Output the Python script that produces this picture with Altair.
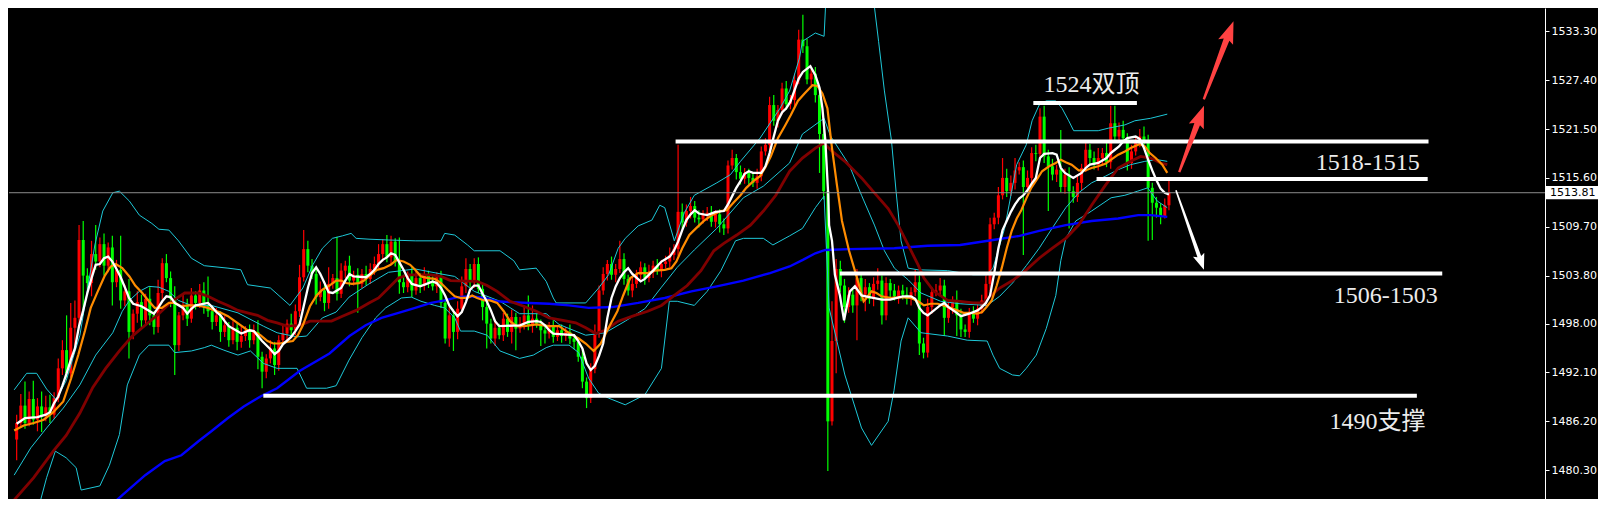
import altair as alt
import pandas as pd

# ---------------- data ----------------
tick_values = [1480.3, 1486.2, 1492.1, 1498.0, 1503.8, 1509.7, 1515.6, 1521.5, 1527.4, 1533.3]
current_price = 1513.81
first_open = 1484.0

close = [
    1486.0, 1488.1, 1486.0, 1488.9, 1486.4, 1488.0, 1486.8, 1487.9, 1487.0, 1489.0,
    1492.6, 1494.8, 1492.0, 1497.5, 1498.7, 1508.1, 1503.8, 1502.9, 1506.4, 1505.5,
    1507.6, 1505.0, 1507.2, 1503.0, 1504.5, 1500.8, 1501.9, 1497.0, 1499.2, 1500.6,
    1498.4, 1501.0, 1499.0, 1497.6, 1501.7, 1505.3, 1503.5, 1501.0, 1495.4, 1499.0,
    1500.3, 1498.6, 1501.4, 1500.5, 1502.0, 1500.2, 1499.5, 1498.2, 1499.0, 1497.0,
    1497.8, 1496.0, 1497.5, 1495.8, 1496.5, 1497.2, 1496.0, 1497.0, 1494.0, 1492.2,
    1493.8, 1495.0, 1493.0, 1496.0, 1496.8, 1498.0, 1497.2, 1499.5, 1503.6, 1507.0,
    1505.0, 1504.0, 1501.2, 1502.0, 1500.5, 1502.8, 1503.5, 1501.6, 1504.4, 1505.0,
    1503.2, 1503.9, 1502.8, 1504.0, 1503.4, 1504.6, 1505.2, 1506.4, 1507.6, 1506.0,
    1507.9, 1505.4, 1503.0, 1502.4, 1503.8, 1502.0, 1503.5, 1502.6, 1503.9, 1503.0,
    1502.5, 1503.6, 1500.5, 1496.2, 1499.0, 1497.0, 1499.8, 1502.5, 1504.6, 1503.0,
    1505.2, 1502.2, 1500.0, 1498.0, 1496.2, 1497.5, 1496.6, 1498.6, 1497.0, 1498.8,
    1497.4, 1498.0, 1499.0, 1497.8, 1498.6, 1498.0, 1497.2, 1496.8, 1497.6, 1496.4,
    1497.2, 1496.5, 1497.0, 1496.2, 1495.8, 1494.0, 1491.0, 1489.0, 1492.5, 1497.0,
    1502.0, 1504.0, 1505.2, 1503.9, 1504.6, 1505.8, 1503.4, 1502.0, 1502.8, 1503.9,
    1504.8, 1503.5, 1504.2, 1505.0, 1504.5, 1505.2, 1505.5, 1506.3, 1507.0, 1511.5,
    1510.2, 1511.6, 1512.2, 1510.8, 1510.6, 1511.2, 1511.4, 1510.3, 1511.2, 1510.0,
    1509.5, 1517.1, 1518.0, 1516.3, 1515.5, 1516.2, 1515.6, 1515.0, 1515.8, 1518.8,
    1519.6, 1524.4, 1522.5, 1523.8, 1526.4, 1524.5, 1525.0, 1527.4, 1532.3, 1531.5,
    1527.5, 1528.2, 1525.6, 1520.9, 1514.0, 1486.2, 1495.9, 1504.6, 1502.6, 1500.0,
    1501.5, 1500.2, 1503.5, 1501.5, 1502.4, 1501.0, 1502.8, 1503.2, 1499.0, 1502.9,
    1502.0, 1501.3, 1502.0, 1501.5, 1501.0, 1501.8, 1503.0, 1495.6, 1494.5, 1500.0,
    1501.8, 1502.0, 1502.6, 1498.7, 1500.0, 1500.8, 1499.0, 1497.3, 1497.0, 1499.2,
    1498.6, 1499.8, 1500.8, 1502.8, 1510.0, 1510.8, 1513.5, 1515.6, 1514.0, 1515.0,
    1516.5, 1516.9, 1514.5, 1515.6, 1518.6, 1518.5, 1523.0, 1518.2, 1517.0, 1516.0,
    1516.6, 1514.5, 1516.0, 1514.0, 1513.3, 1515.0, 1516.8, 1519.0, 1518.0, 1517.2,
    1518.0, 1518.6, 1517.5, 1522.2, 1520.6, 1521.4, 1520.4, 1517.4, 1518.8, 1519.9,
    1520.6, 1520.0, 1514.4, 1512.6, 1512.0, 1511.0, 1512.3, 1513.81,
]

wick_up = [
    1.0, 1.4, 2.9, 0.9, 2.2, 1.0, 1.8, 1.4, 1.5, 0.7,
    1.2, 1.2, 4.2, 3.0, 2.1, 1.8, 2.3, 0.9, 1.6, 3.5,
    0.8, 1.3, 0.6, 1.4, 1.2, 4.1, 0.8, 1.5, 0.5, 1.3,
    0.9, 0.6, 1.4, 0.5, 1.6, 0.6, 1.1, 0.8, 1.5, 0.4,
    1.2, 0.7, 0.9, 0.5, 0.8, 1.0, 3.5, 0.6, 0.9, 0.5,
    1.1, 0.4, 0.8, 0.6, 1.2, 0.5, 0.7, 0.9, 1.4, 0.6,
    0.5, 1.0, 0.8, 0.6, 0.9, 0.5, 1.2, 0.8, 1.5, 2.3,
    1.0, 0.8, 0.6, 1.1, 0.7, 2.0, 0.5, 5.0, 0.9, 0.6,
    1.2, 0.5, 0.8, 0.6, 1.0, 0.7, 0.9, 1.2, 0.6, 1.1,
    0.7, 0.4, 3.0, 0.9, 0.5, 1.0, 0.8, 0.6, 0.9, 0.5,
    0.7, 0.6, 0.8, 0.5, 1.0, 0.7, 0.9, 1.2, 1.3, 0.6,
    0.7, 0.8, 0.5, 0.9, 0.6, 0.8, 0.5, 0.7, 0.6, 0.9,
    0.5, 0.8, 1.2, 2.4, 1.6, 0.6, 0.5, 0.7, 0.6, 0.8,
    0.5, 0.7, 0.6, 0.9, 0.5, 0.6, 0.8, 0.5, 0.7, 0.9,
    0.6, 0.8, 0.5, 0.9, 0.6, 2.2, 0.7, 0.5, 0.8, 0.6,
    0.7, 0.5, 0.9, 0.6, 0.8, 0.5, 0.7, 0.9, 0.6, 8.1,
    1.0, 0.8, 1.1, 0.6, 0.9, 0.5, 0.7, 0.8, 0.5, 0.6,
    0.7, 0.6, 1.0, 0.5, 0.8, 0.6, 0.5, 0.7, 0.9, 0.6,
    0.8, 1.0, 1.2, 0.6, 0.7, 0.9, 0.6, 0.8, 1.2, 3.0,
    0.9, 0.6, 0.8, 0.7, 1.0, 0.5, 4.8, 1.2, 1.0, 0.8,
    0.9, 0.6, 1.1, 0.7, 1.0, 0.5, 0.8, 1.5, 0.6, 0.7,
    0.5, 0.8, 0.6, 0.7, 0.9, 0.6, 1.5, 0.8, 0.7, 1.0,
    0.6, 0.8, 0.9, 0.7, 0.6, 0.5, 1.2, 0.8, 0.6, 0.7,
    0.9, 0.5, 0.7, 1.0, 0.8, 0.6, 1.0, 2.4, 1.1, 0.9,
    1.5, 0.6, 0.8, 0.9, 0.7, 1.0, 1.0, 1.3, 0.8, 0.9,
    0.6, 4.8, 0.7, 0.9, 0.6, 0.8, 0.5, 0.9, 0.7, 0.8,
    1.2, 0.6, 1.3, 2.1, 2.1, 0.9, 1.1, 0.6, 0.8, 0.7,
    0.9, 1.2, 0.8, 0.6, 0.7, 0.5, 0.8, 1.5,
]

wick_dn = [
    2.5, 0.6, 0.7, 0.4, 0.6, 1.4, 1.9, 0.6, 1.0, 0.5,
    0.5, 0.8, 0.5, 0.5, 2.2, 1.2, 4.8, 0.9, 1.6, 1.0,
    0.7, 1.2, 0.8, 2.8, 0.6, 1.0, 0.7, 3.2, 0.9, 1.1,
    0.8, 0.6, 1.2, 0.9, 0.7, 0.8, 0.5, 1.0, 3.6, 0.7,
    0.6, 0.9, 0.5, 0.8, 0.6, 1.0, 0.7, 0.9, 0.5, 1.2,
    0.6, 0.8, 0.5, 1.0, 0.7, 0.6, 0.9, 0.5, 1.5, 2.0,
    0.8, 0.6, 1.2, 0.7, 0.5, 0.8, 0.9, 0.6, 0.7, 0.5,
    0.8, 0.6, 0.9, 0.5, 1.0, 0.7, 0.6, 0.8, 0.5, 0.9,
    0.7, 0.6, 3.5, 0.5, 0.8, 0.6, 0.7, 0.5, 0.9, 0.6,
    0.8, 0.5, 1.4, 0.7, 0.6, 0.8, 0.5, 0.9, 0.6, 0.7,
    0.5, 0.8, 0.6, 0.6, 1.0, 2.3, 0.9, 0.5, 0.8, 0.6,
    0.7, 0.5, 1.6, 3.0, 0.6, 0.9, 0.5, 0.7, 0.6, 1.4,
    2.6, 0.5, 0.7, 0.6, 0.9, 0.5, 1.9, 1.2, 0.6, 0.7,
    0.5, 0.8, 0.6, 0.7, 0.9, 0.6, 0.8, 1.2, 0.6, 0.5,
    0.7, 0.5, 0.8, 0.6, 0.9, 0.5, 0.7, 0.6, 0.8, 0.5,
    0.6, 0.8, 0.5, 0.7, 0.6, 0.9, 0.5, 0.7, 0.6, 0.8,
    0.7, 0.5, 0.9, 0.6, 1.0, 0.5, 0.8, 0.6, 0.7, 1.0,
    0.8, 0.6, 0.5, 0.9, 0.7, 0.6, 0.8, 0.5, 0.7, 0.6,
    0.5, 0.9, 0.6, 0.8, 0.5, 0.7, 0.6, 0.9, 0.5, 0.8,
    0.6, 0.7, 0.9, 4.7, 1.0, 6.0, 0.5, 3.9, 0.8, 1.9,
    0.7, 0.9, 4.2, 0.8, 2.0, 0.6, 0.9, 0.7, 1.1, 0.6,
    0.8, 0.5, 0.9, 0.6, 0.7, 0.8, 0.5, 1.4, 0.7, 0.6,
    0.8, 0.5, 0.7, 2.2, 0.6, 0.8, 2.5, 0.9, 0.6, 0.7,
    0.5, 0.8, 0.6, 0.7, 0.9, 0.6, 0.8, 0.5, 0.7, 0.6,
    0.8, 0.5, 8.2, 0.6, 0.7, 0.9, 0.6, 0.8, 5.4, 0.7,
    0.9, 0.6, 0.8, 4.5, 0.7, 0.6, 0.9, 0.5, 0.8, 0.6,
    0.7, 0.9, 0.6, 0.8, 0.5, 0.7, 0.6, 0.9, 0.7, 0.5,
    0.6, 0.8, 6.4, 4.5, 1.2, 1.0, 0.3, 0.6,
]

# indicator lines: (bar index, price)
white_ma = [
    (0, 1485.9), (2, 1486.6), (5, 1486.7), (7, 1487.0), (8, 1487.3), (9, 1488.4), (10, 1489.2), (11, 1490.5),
    (12, 1492.0), (13, 1493.6), (14, 1495.0), (15, 1497.7), (16, 1499.6), (17, 1501.7), (18, 1503.5), (19, 1505.1),
    (20, 1505.2), (21, 1505.9), (22, 1506.1), (23, 1505.5), (24, 1504.6), (25, 1503.6), (26, 1502.4), (27, 1501.1),
    (28, 1500.4), (30, 1500.1), (32, 1499.5), (33, 1499.2), (34, 1499.9), (35, 1500.7), (36, 1501.3), (37, 1501.2),
    (38, 1500.5), (40, 1499.9), (41, 1499.2), (42, 1499.8), (43, 1500.2), (46, 1500.5), (47, 1500.0), (48, 1499.4),
    (49, 1499.0), (50, 1498.3), (51, 1497.7), (53, 1497.1), (54, 1496.8), (56, 1497.2), (57, 1497.1), (58, 1496.5),
    (59, 1495.9), (61, 1494.9), (62, 1494.3), (63, 1494.7), (64, 1495.5), (66, 1496.4), (67, 1497.1), (68, 1497.9),
    (69, 1500.1), (70, 1502.3), (71, 1504.1), (72, 1504.8), (73, 1504.0), (74, 1502.9), (75, 1501.8), (76, 1501.7),
    (78, 1502.3), (79, 1503.2), (80, 1504.0), (81, 1503.7), (84, 1503.6), (85, 1504.0), (86, 1504.5), (87, 1505.2),
    (88, 1505.7), (89, 1506.0), (90, 1506.5), (91, 1506.3), (92, 1505.4), (93, 1504.5), (94, 1503.5), (95, 1502.8),
    (97, 1502.5), (99, 1502.9), (100, 1503.1), (101, 1502.9), (102, 1502.3), (103, 1501.4), (104, 1500.2), (105, 1499.5),
    (106, 1498.9), (107, 1499.4), (108, 1500.6), (109, 1502.1), (110, 1502.6), (111, 1502.6), (112, 1501.6), (113, 1500.7),
    (114, 1499.6), (115, 1498.3), (116, 1497.7), (121, 1497.8), (123, 1498.2), (125, 1498.3), (126, 1498.2), (127, 1497.8),
    (128, 1497.2), (129, 1496.8), (134, 1496.6), (135, 1495.9), (136, 1495.0), (137, 1493.2), (138, 1492.4), (139, 1492.9),
    (140, 1494.1), (141, 1495.6), (142, 1498.7), (143, 1501.1), (144, 1502.5), (145, 1503.5), (146, 1504.2), (147, 1504.7),
    (148, 1504.0), (150, 1503.1), (151, 1503.4), (153, 1504.4), (155, 1505.5), (157, 1506.1), (158, 1506.8), (159, 1507.9),
    (160, 1509.3), (161, 1510.5), (162, 1511.2), (163, 1511.7), (164, 1511.3), (166, 1511.1), (168, 1511.5), (170, 1511.6),
    (171, 1512.4), (172, 1513.4), (173, 1514.4), (174, 1515.2), (175, 1516.1), (176, 1516.4), (177, 1516.2), (179, 1516.2),
    (180, 1517.0), (181, 1518.6), (182, 1520.6), (183, 1522.5), (184, 1523.5), (185, 1524.0), (186, 1524.8), (187, 1526.2),
    (188, 1527.6), (189, 1528.4), (190.8, 1529.1), (192, 1528.0), (193, 1526.5), (193.7, 1524.0), (194.4, 1520.1),
    (195.1, 1513.5), (195.3, 1509.9), (196, 1508.0), (196.7, 1503.9), (197.9, 1501.4), (198.9, 1498.4), (199.6, 1500.2),
    (200.3, 1501.9), (201.5, 1502.5), (203.1, 1501.4), (205, 1501.2), (208, 1500.9), (210, 1500.9), (213, 1501.3),
    (215, 1501.3), (216, 1501.0), (217, 1499.9), (218, 1499.3), (219, 1499.0), (220, 1499.4), (222, 1500.2), (223, 1500.5),
    (224, 1500.0), (226, 1499.3), (227, 1498.9), (229, 1499.2), (231, 1499.6), (232, 1500.0), (233, 1500.5), (234, 1501.4),
    (235, 1504.1), (236, 1507.1), (237, 1509.3), (238, 1510.4), (239, 1511.5), (240, 1512.4), (241, 1513.1), (242, 1513.5),
    (243, 1514.1), (244, 1514.9), (245, 1515.6), (246, 1518.0), (247, 1518.5), (249, 1518.6), (250, 1518.4), (251, 1516.8),
    (252, 1516.2), (254, 1515.6), (256, 1516.2), (257, 1516.8), (258, 1517.2), (260, 1517.4), (262, 1518.0), (263, 1518.6),
    (264, 1519.0), (265, 1519.4), (266, 1520.0), (267, 1520.4), (269, 1520.6), (270, 1520.3), (271, 1519.2), (272, 1517.8),
    (273, 1516.5), (274, 1515.3), (275, 1514.3), (276, 1513.8), (277, 1513.6),
]

orange_ma = [
    (-0.6, 1485.1), (1.7, 1485.7), (4.1, 1486.0), (6.5, 1486.4), (8.8, 1487.3), (11.2, 1488.6), (13.1, 1491.4),
    (14.8, 1494.2), (16.4, 1497.1), (17.8, 1499.9), (19.5, 1501.9), (21.2, 1503.8), (22.6, 1504.9), (23.8, 1505.2),
    (25.4, 1504.7), (27.1, 1503.7), (28.5, 1502.6), (30.2, 1501.7), (31.8, 1500.7), (33.2, 1499.9), (34.9, 1499.9),
    (36.6, 1500.5), (38.0, 1500.5), (39.6, 1500.1), (41.3, 1500.2), (42.7, 1500.2), (44.4, 1500.1), (46.0, 1499.9),
    (47.5, 1499.6), (49.1, 1499.3), (50.8, 1498.9), (52.2, 1498.4), (53.9, 1497.8), (55.5, 1497.2), (56.9, 1497.1),
    (58.6, 1496.6), (60.3, 1495.9), (61.7, 1495.6), (63.3, 1495.6), (65.0, 1495.8), (66.4, 1495.9), (67.6, 1496.6),
    (68.8, 1497.8), (70.5, 1500.1), (72.1, 1501.4), (73.5, 1502.1), (75.2, 1502.6), (76.8, 1503.2), (78.0, 1503.2),
    (79.2, 1502.9), (80.6, 1502.8), (82.3, 1502.9), (83.5, 1503.2), (85.1, 1503.9), (86.6, 1504.5), (88.2, 1504.7),
    (89.9, 1505.1), (91.3, 1505.7), (93.0, 1505.5), (94.6, 1505.1), (95.8, 1504.5), (97.2, 1503.7), (98.9, 1503.5),
    (100.5, 1503.4), (102.0, 1502.9), (103.6, 1502.1), (105.3, 1501.3), (106.7, 1501.1), (108.4, 1501.1), (109.5, 1501.4),
    (110.7, 1501.1), (112.4, 1500.8), (113.8, 1500.8), (115.5, 1500.5), (117.1, 1499.5), (118.6, 1498.3), (120.2, 1497.7),
    (121.9, 1497.7), (123.3, 1497.8), (124.9, 1497.9), (126.6, 1497.8), (128.0, 1497.7), (130.4, 1497.7), (132.1, 1497.1),
    (133.7, 1496.6), (135.1, 1496.2), (136.8, 1495.6), (138.7, 1494.7), (140.4, 1495.6), (142.3, 1497.5), (144.4, 1499.5),
    (145.8, 1501.4), (147.5, 1503.5), (149.4, 1504.1), (151.7, 1504.1), (153.4, 1504.4), (155.8, 1504.5), (157.4, 1504.7),
    (158.6, 1505.5), (160.0, 1507.1), (161.7, 1508.7), (163.3, 1509.5), (165.2, 1510.4), (167.1, 1511.1), (169.3, 1511.6),
    (170.7, 1511.7), (172.3, 1512.6), (174.0, 1513.5), (175.4, 1514.4), (177.1, 1515.2), (178.7, 1515.8), (179.9, 1516.8),
    (181.3, 1518.2), (183.0, 1520.4), (184.7, 1521.9), (186.1, 1523.2), (187.8, 1524.9), (189.4, 1525.8), (191.3, 1526.8),
    (192.5, 1526.7), (193.7, 1525.8), (194.9, 1524.0), (196.0, 1519.2), (197.2, 1514.7), (198.4, 1510.4), (200.1, 1506.8),
    (201.5, 1504.4), (202.7, 1502.3), (203.6, 1500.7), (204.3, 1501.1), (205.5, 1501.9), (206.7, 1501.7), (207.9, 1501.3),
    (210.3, 1501.1), (212.6, 1501.2), (215.0, 1501.1), (216.7, 1500.7), (218.1, 1500.2), (219.7, 1500.4), (221.4, 1500.4),
    (222.8, 1500.2), (224.5, 1499.9), (226.1, 1499.6), (227.6, 1499.3), (229.2, 1499.3), (230.9, 1499.2), (232.1, 1499.4),
    (233.3, 1500.1), (234.4, 1500.8), (235.6, 1502.6), (236.8, 1504.7), (238.0, 1507.1), (239.2, 1509.2), (240.4, 1510.7),
    (241.5, 1511.7), (242.7, 1513.1), (243.9, 1514.4), (245.1, 1515.3), (246.5, 1516.4), (248.2, 1517.0), (249.8, 1517.4),
    (251.0, 1517.8), (252.2, 1517.5), (253.6, 1517.2), (255.3, 1516.5), (256.9, 1516.5), (258.4, 1516.8), (260.0, 1517.0),
    (261.7, 1517.3), (263.1, 1517.8), (264.8, 1518.4), (266.4, 1518.8), (267.8, 1519.2), (270.0, 1519.7), (271.2, 1519.4),
    (272.4, 1518.6), (273.8, 1518.0), (275.4, 1517.2), (276.6, 1516.2),
]

darkred_ma = [
    (-0.6, 1476.7), (4.1, 1479.4), (8.8, 1482.6), (11.9, 1484.5), (15.2, 1487.2), (18.3, 1490.3), (21.4, 1492.6),
    (24.7, 1494.7), (27.8, 1496.5), (30.9, 1497.8), (34.2, 1499.2), (37.3, 1500.7), (40.4, 1501.7), (43.7, 1501.7),
    (46.0, 1501.3), (48.4, 1500.7), (50.8, 1500.2), (53.2, 1499.6), (55.5, 1499.3), (57.9, 1499.0), (60.3, 1498.4),
    (62.6, 1498.1), (65.0, 1497.7), (68.1, 1497.8), (70.5, 1498.3), (75.7, 1498.3), (78.3, 1498.9), (81.6, 1499.6),
    (84.7, 1500.5), (87.0, 1501.1), (89.4, 1502.3), (91.8, 1503.5), (94.1, 1503.9), (99.6, 1503.9), (102.0, 1503.7),
    (104.3, 1503.2), (110.7, 1503.1), (113.1, 1502.6), (115.5, 1501.9), (118.6, 1500.7), (121.9, 1500.1), (124.9, 1499.5),
    (128.0, 1498.7), (131.3, 1498.4), (134.4, 1498.1), (136.8, 1497.5), (139.2, 1496.8), (141.5, 1497.2), (144.6, 1498.3),
    (148.6, 1499.0), (151.7, 1499.5), (155.0, 1500.2), (158.1, 1501.4), (161.2, 1502.6), (164.5, 1504.4), (167.6, 1506.8),
    (170.0, 1507.7), (173.1, 1508.7), (176.4, 1509.9), (179.5, 1511.6), (182.5, 1513.5), (185.8, 1516.4), (188.9, 1518.0),
    (192.0, 1519.2), (194.1, 1519.8), (195.6, 1519.0), (199.1, 1517.6), (203.1, 1515.6), (206.2, 1513.8), (209.5, 1511.9),
    (211.9, 1509.9), (214.3, 1507.5), (216.7, 1505.1), (218.1, 1503.5), (220.5, 1501.9), (223.8, 1500.8), (226.8, 1500.7),
    (229.9, 1500.5), (232.3, 1500.5), (234.0, 1501.3), (236.3, 1502.3), (239.4, 1503.2), (242.7, 1504.5), (245.8, 1505.9),
    (248.9, 1507.1), (252.2, 1508.3), (255.3, 1509.9), (258.4, 1512.3), (261.7, 1514.7), (264.8, 1516.8), (267.8, 1517.6),
    (270.2, 1518.2), (272.6, 1518.0), (275.0, 1517.4), (276.6, 1517.2),
]

blue_ma = [
    (20.2, 1474.9), (25.4, 1477.3), (30.9, 1479.7), (35.6, 1481.4), (39.6, 1482.1), (43.7, 1483.8), (46.8, 1485.0),
    (50.8, 1486.6), (54.6, 1488.0), (58.6, 1489.2), (62.6, 1490.2), (68.1, 1492.3), (75.2, 1494.4), (80.0, 1496.5),
    (83.9, 1497.8), (87.7, 1498.7), (91.8, 1499.3), (95.8, 1499.9), (99.6, 1500.5), (102.9, 1500.8), (106.0, 1501.2),
    (109.1, 1501.3), (112.4, 1501.1), (115.5, 1500.7), (118.6, 1500.6), (123.3, 1500.5), (128.0, 1500.4), (132.8, 1500.2),
    (137.5, 1499.9), (143.2, 1500.0), (149.4, 1500.5), (155.8, 1501.1), (162.2, 1501.9), (168.3, 1502.5), (174.7, 1503.2),
    (181.1, 1504.1), (185.8, 1504.9), (189.0, 1505.7), (192.0, 1506.5), (194.4, 1506.9), (200.1, 1507.0), (211.0, 1507.1),
    (219.0, 1507.4), (226.8, 1507.5), (234.7, 1508.1), (241.1, 1508.6), (245.8, 1509.2), (252.2, 1509.9), (258.4, 1510.4),
    (264.8, 1510.7), (269.6, 1511.1), (272.6, 1511.1), (276.6, 1510.9),
]

bb_upper = [
    (-0.6, 1490.0), (2.4, 1492.0), (4.8, 1492.0), (7.2, 1490.1), (9.5, 1488.8), (11.9, 1491.1), (15.2, 1496.6),
    (18.8, 1507.5), (20.7, 1511.6), (23.1, 1513.8), (24.7, 1514.0), (27.1, 1512.8), (29.5, 1511.1), (32.5, 1510.1),
    (34.2, 1509.4), (36.6, 1509.3), (38.9, 1508.0), (42.0, 1505.9), (45.1, 1505.0), (50.8, 1504.7), (53.9, 1504.5),
    (55.5, 1502.7), (61.0, 1502.3), (65.7, 1500.2), (68.8, 1502.3), (71.2, 1505.1), (73.5, 1507.1), (75.9, 1508.3),
    (78.3, 1508.6), (80.4, 1508.9), (81.6, 1508.3), (84.7, 1508.2), (89.4, 1508.1), (95.8, 1508.0), (102.0, 1508.0),
    (102.9, 1508.9), (105.3, 1508.7), (108.4, 1507.5), (110.0, 1506.8), (116.2, 1506.8), (119.5, 1505.6), (120.9, 1504.5),
    (124.9, 1504.7), (127.3, 1503.1), (129.0, 1501.1), (129.7, 1500.5), (136.8, 1500.5), (139.9, 1502.3), (142.3, 1503.9),
    (144.6, 1507.1), (146.3, 1508.3), (149.4, 1509.8), (152.7, 1510.5), (154.6, 1512.3), (155.8, 1512.0), (158.1, 1508.0),
    (160.5, 1511.4), (162.9, 1513.5), (168.3, 1515.0), (171.6, 1516.0), (174.0, 1517.6), (178.7, 1520.4), (183.5, 1524.0),
    (185.8, 1526.1), (188.2, 1530.1), (188.9, 1532.1), (192.0, 1533.1), (194.1, 1532.7), (194.6, 1537.9), (205.8, 1537.9),
    (207.2, 1532.1), (208.6, 1526.1), (210.3, 1520.1), (211.4, 1514.0), (212.6, 1508.0), (214.3, 1504.7), (216.7, 1504.5),
    (223.8, 1504.4), (229.9, 1503.9), (233.3, 1503.9), (234.7, 1504.7), (237.5, 1509.5), (240.4, 1517.2), (242.7, 1519.6),
    (244.1, 1522.5), (245.8, 1524.4), (247.5, 1524.9), (249.8, 1524.9), (251.3, 1524.0), (252.9, 1522.5), (254.1, 1521.3),
    (260.0, 1521.3), (262.4, 1521.6), (266.4, 1522.0), (268.8, 1522.5), (272.6, 1522.8), (276.6, 1523.3),
]

bb_middle = [
    (-0.6, 1479.7), (3.4, 1483.0), (7.2, 1485.4), (11.2, 1487.8), (15.2, 1490.6), (19.0, 1494.2), (23.1, 1496.9),
    (25.4, 1499.5), (27.1, 1500.8), (29.5, 1501.9), (31.8, 1502.5), (34.2, 1502.4), (36.6, 1501.9), (38.9, 1500.8),
    (42.0, 1500.2), (46.8, 1500.2), (53.2, 1499.3), (59.3, 1497.7), (62.6, 1496.9), (67.4, 1496.4), (69.7, 1496.5),
    (73.5, 1498.7), (76.8, 1499.4), (79.9, 1501.2), (84.7, 1502.8), (89.4, 1504.2), (95.8, 1504.6), (102.0, 1504.0),
    (105.3, 1503.7), (110.0, 1501.9), (116.2, 1500.7), (120.9, 1499.2), (127.3, 1499.2), (130.4, 1497.9), (136.8, 1496.6),
    (141.5, 1496.9), (146.3, 1498.3), (151.0, 1499.8), (155.0, 1502.4), (158.8, 1504.8), (162.9, 1506.9), (168.3, 1509.5),
    (174.7, 1513.2), (179.5, 1514.6), (185.8, 1517.4), (188.9, 1520.9), (194.1, 1522.8), (195.6, 1520.7), (200.1, 1517.2),
    (203.1, 1513.5), (206.2, 1509.9), (208.6, 1506.8), (211.0, 1504.7), (214.3, 1503.3), (217.4, 1501.7), (222.1, 1500.7),
    (226.8, 1500.4), (233.3, 1500.2), (236.3, 1501.3), (239.4, 1502.9), (242.7, 1505.0), (245.8, 1507.1), (248.9, 1509.5),
    (252.2, 1512.0), (255.3, 1513.8), (258.4, 1515.0), (261.7, 1515.8), (264.8, 1516.6), (267.8, 1517.2), (271.2, 1517.6),
    (274.2, 1517.8), (276.6, 1517.6),
]

bb_lower = [
    (3.6, 1473.3), (4.8, 1474.9), (7.2, 1479.4), (9.3, 1482.6), (11.9, 1481.8), (14.3, 1480.6), (15.5, 1477.9),
    (20.0, 1478.4), (22.3, 1480.9), (24.7, 1484.6), (26.6, 1490.6), (29.5, 1494.2), (31.8, 1495.4), (36.6, 1495.4),
    (38.0, 1494.5), (42.0, 1494.7), (45.1, 1495.1), (46.8, 1495.4), (49.8, 1494.8), (53.2, 1494.2), (56.2, 1494.7),
    (59.3, 1493.2), (62.6, 1492.6), (67.4, 1492.6), (69.7, 1490.2), (74.5, 1490.2), (76.8, 1490.5), (79.9, 1493.6),
    (83.0, 1496.3), (86.3, 1498.7), (88.7, 1499.9), (92.5, 1501.1), (94.9, 1501.2), (97.2, 1500.7), (100.5, 1500.2),
    (102.9, 1499.9), (105.3, 1498.7), (106.7, 1497.1), (110.0, 1497.1), (113.1, 1496.6), (116.2, 1494.7), (120.9, 1493.8),
    (124.2, 1494.2), (127.3, 1495.1), (129.0, 1495.4), (132.8, 1495.4), (135.1, 1494.5), (137.5, 1491.4), (139.9, 1489.6),
    (142.3, 1489.0), (146.3, 1488.2), (151.0, 1489.4), (155.0, 1492.6), (156.9, 1500.7), (158.8, 1500.7), (162.9, 1500.2),
    (166.0, 1501.9), (169.3, 1504.4), (172.8, 1508.0), (174.7, 1508.3), (179.5, 1508.3), (181.8, 1507.5), (185.8, 1508.6),
    (188.9, 1509.5), (192.0, 1512.0), (194.1, 1513.4), (195.3, 1499.9), (199.1, 1491.8), (203.1, 1485.4), (205.5, 1483.3),
    (209.5, 1486.2), (210.9, 1489.9), (212.6, 1495.9), (214.3, 1498.7), (217.4, 1496.9), (223.8, 1496.5), (228.5, 1496.0),
    (233.3, 1495.9), (234.7, 1494.2), (236.3, 1492.6), (239.4, 1491.8), (241.1, 1491.7), (242.7, 1492.6), (245.1, 1494.2),
    (247.5, 1497.4), (249.8, 1501.4), (251.0, 1505.6), (252.2, 1508.3), (254.6, 1510.4), (258.4, 1511.6), (263.1, 1513.2),
    (266.4, 1513.5), (269.5, 1514.0), (271.9, 1514.4), (274.2, 1512.8), (276.6, 1512.0),
]

# horizontal levels drawn on the chart: (from bar, to bar, price)
levels = [
    (158.4, 339.4, 1520.0),
    (244.4, 269.3, 1524.65),
    (259.6, 339.2, 1515.47),
    (197.9, 342.7, 1504.05),
    (59.3, 336.6, 1489.28),
]

# annotation texts: (text, bar, price)
label_top = [("1524双顶", 258.4, 1526.8)]
labels_right = [
    ("1518-1515", 337.3, 1517.4),
    ("1506-1503", 341.6, 1501.3),
    ("1490支撑", 338.7, 1486.1),
]

# arrows: midpoints (bar, price)
red_arrow_1 = [(282.45, 1520.3)]
red_arrow_2 = [(288.95, 1529.8)]
white_arrow = [(282.05, 1509.3)]

# ---------------- build ----------------
W, H = 1536, 491
xs = alt.Scale(domain=[-0.64, 366.2], nice=False, zero=False)
ys = alt.Scale(domain=[1476.82, 1536.12], nice=False, zero=False)
yaxis = alt.Axis(orient="right", values=tick_values, format=".2f", labelColor="white",
                 labelFont="DejaVu Sans", labelFontSize=11, tickColor="white", tickSize=4,
                 domainColor="white", domainWidth=1, grid=False, title=None,
                 labelPadding=2, labelOverlap=False, labelFlush=False)


def X(f="i"):
    return alt.X(f"{f}:Q", scale=xs, axis=None)


def Y(f="p"):
    return alt.Y(f"{f}:Q", scale=ys, axis=yaxis)


rows = []
prev = first_open
n = min(len(close), len(wick_up), len(wick_dn))
for k in range(n):
    o, c = prev, close[k]
    rows.append({"i": k, "open": o, "close": c,
                 "high": max(o, c) + wick_up[k], "low": min(o, c) - wick_dn[k],
                 "dir": "up" if c >= o else "down"})
    prev = c
candles = pd.DataFrame(rows)

ccol = alt.Color("dir:N", scale=alt.Scale(domain=["up", "down"], range=["#ff0000", "#00ff00"]), legend=None)

wicks = alt.Chart(candles).mark_rule(strokeWidth=1.2).encode(x=X(), y=Y("low"), y2="high", color=ccol)
bodies = alt.Chart(candles).mark_bar(size=3).encode(x=X(), y=Y("open"), y2="close", color=ccol)


def line(pts, color, width):
    df = pd.DataFrame(pts, columns=["i", "p"])
    return alt.Chart(df).mark_line(color=color, strokeWidth=width, clip=True).encode(x=X(), y=Y())


cyan = "#1ec8d8"
layers = [
    wicks, bodies,
    line(bb_upper, cyan, 1), line(bb_middle, cyan, 1), line(bb_lower, cyan, 1),
    line(blue_ma, "#0000ff", 2.4),
    line(darkred_ma, "#800000", 2.8),
    line(orange_ma, "#ff8c00", 2.2),
    line(white_ma, "#ffffff", 2.3),
]

price_df = pd.DataFrame({"p": [current_price]})
layers.append(alt.Chart(price_df).mark_rule(color="#8c8c8c", strokeWidth=1).encode(y=Y()))

lev_df = pd.DataFrame(levels, columns=["x0", "x1", "p"])
layers.append(alt.Chart(lev_df).mark_rule(color="white", strokeWidth=4).encode(x=X("x0"), x2="x1", y=Y()))

txt_font = "Liberation Serif, Noto Sans CJK SC"
layers.append(alt.Chart(pd.DataFrame(label_top, columns=["t", "i", "p"])).mark_text(
    font=txt_font, fontSize=24, color="#ececec", align="center", baseline="middle").encode(x=X(), y=Y(), text="t:N"))
layers.append(alt.Chart(pd.DataFrame(labels_right, columns=["t", "i", "p"])).mark_text(
    font=txt_font, fontSize=24, color="#ececec", align="right", baseline="middle").encode(x=X(), y=Y(), text="t:N"))

path_r1 = "M0,-1 L0.226,-0.38 L0.085,-0.45 L0.034,1 L-0.034,1 L-0.085,-0.45 L-0.226,-0.38 Z"
path_r2 = "M0,-1 L0.19,-0.47 L0.072,-0.53 L0.029,1 L-0.029,1 L-0.072,-0.53 L-0.19,-0.47 Z"
path_w = "M0,-1 L0.142,-0.62 L0.047,-0.67 L0.019,1 L-0.019,1 L-0.047,-0.67 L-0.142,-0.62 Z"
for pts, path, size, ang, col in [
    (red_arrow_1, path_r1, 5000, 20.5, "#ff4242"),
    (red_arrow_2, path_r2, 7000, 20.8, "#ff4242"),
    (white_arrow, path_w, 7100, 160.6, "#ffffff"),
]:
    layers.append(alt.Chart(pd.DataFrame(pts, columns=["i", "p"])).mark_point(
        shape=path, size=size, angle=ang, filled=True, color=col, opacity=1, strokeWidth=0
    ).encode(x=X(), y=Y()))

box_df = pd.DataFrame({"top": [current_price + 0.8], "bot": [current_price - 0.8]})
layers.append(alt.Chart(box_df).mark_rect(color="white").encode(
    x=alt.value(W + 1), x2=alt.value(W + 53), y=Y("top"), y2="bot"))
lab_df = pd.DataFrame({"p": [current_price], "label": [f"{current_price:.2f}"]})
layers.append(alt.Chart(lab_df).mark_text(align="left", baseline="middle", color="black",
                                          font="DejaVu Sans", fontSize=11).encode(
    x=alt.value(W + 5), y=Y(), text="label:N"))

chart = alt.layer(*layers).properties(
    width=W, height=H, background="black", padding=0
).configure_view(strokeWidth=0, fill="black")

chart.save("out.html", embed_options={"renderer": "svg", "actions": False})
